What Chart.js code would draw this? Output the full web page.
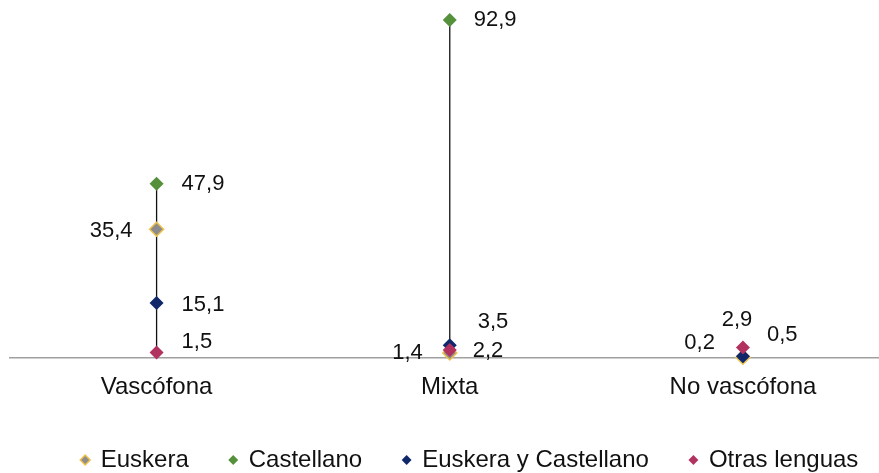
<!DOCTYPE html>
<html>
<head>
<meta charset="utf-8">
<script src="https://cdn.jsdelivr.net/npm/chart.js@4"></script>
<style>
html,body{margin:0;padding:0;background:#fff;overflow:hidden}
canvas{display:block}
</style>
</head>
<body>
<canvas id="c" width="930" height="473"></canvas>
<script>
const categories=['Vascófona','Mixta','No vascófona'];
const seriesNames=['Euskera','Castellano','Euskera y Castellano','Otras lenguas'];
const euskera=[35.4,1.4,0.2];
const castellano=[47.9,92.9,null];
const euskeraCastellano=[15.1,3.5,0.5];
const otrasLenguas=[1.5,2.2,2.9];

// where each value label sits next to its marker: [dx, dy, align]
const labelPos=[
  [[-24,2,'right'],[-27,0,'right'],[-28,-14,'right']],
  [[25,0,'left'],[24,0,'left'],null],
  [[25,2,'left'],[28,-23,'left'],[24,-21,'left']],
  [[25,-11,'left'],[23,1,'left'],[-6,-28,'center']]
];

const FONT='"Liberation Sans", Arial, sans-serif';
const toPts=arr=>arr.map((v,i)=>({x:i,y:v}));
const fmt=v=>v.toFixed(1).replace('.',',');

const hiLo={
  id:'hiLo',
  beforeDatasetsDraw(chart){
    const {ctx,scales:{x,y}}=chart;
    ctx.save();
    ctx.strokeStyle='#111';
    ctx.lineWidth=1.3;
    categories.forEach((c,i)=>{
      const vals=chart.data.datasets.map(d=>d.data[i].y).filter(v=>v!=null);
      const px=x.getPixelForValue(i);
      ctx.beginPath();
      ctx.moveTo(px,y.getPixelForValue(Math.max(...vals)));
      ctx.lineTo(px,y.getPixelForValue(Math.min(...vals)));
      ctx.stroke();
    });
    ctx.restore();
  }
};

const valueLabels={
  id:'valueLabels',
  afterDatasetsDraw(chart){
    const {ctx}=chart;
    ctx.save();
    ctx.font='22px '+FONT;
    ctx.fillStyle='#111';
    ctx.textBaseline='middle';
    chart.data.datasets.forEach((ds,di)=>{
      const meta=chart.getDatasetMeta(di);
      ds.data.forEach((p,i)=>{
        const pos=labelPos[di][i];
        if(p.y==null||!pos)return;
        const el=meta.data[i];
        ctx.textAlign=pos[2];
        ctx.fillText(fmt(p.y),el.x+pos[0],el.y+pos[1]);
      });
    });
    ctx.restore();
  }
};

const mk=(label,arr,fill,border,order)=>({
  label,data:toPts(arr),order,
  showLine:false,clip:false,
  pointStyle:'rectRot',pointRadius:7,
  backgroundColor:fill,borderColor:border,
  pointBackgroundColor:fill,pointBorderColor:border,
  pointBorderWidth:border===fill?0:1.5
});

new Chart(document.getElementById('c'),{
  type:'line',
  data:{datasets:[
    mk(seriesNames[0],euskera,'#8c8c8c','#f0c24a',4),
    mk(seriesNames[1],castellano,'#55913a','#55913a',3),
    mk(seriesNames[2],euskeraCastellano,'#10286a','#10286a',2),
    mk(seriesNames[3],otrasLenguas,'#b2325f','#b2325f',1)
  ]},
  options:{
    responsive:false,
    animation:false,
    layout:{padding:{left:10,right:0,top:12,bottom:-9}},
    plugins:{
      tooltip:{enabled:false},
      legend:{
        position:'bottom',
        labels:{
          usePointStyle:true,boxWidth:7,boxHeight:7,padding:41,
          color:'#111',font:{size:24,family:FONT},
          sort:(a,b)=>a.datasetIndex-b.datasetIndex
        }
      }
    },
    scales:{
      x:{
        type:'linear',min:-0.5,max:2.609,
        grid:{display:false,drawTicks:false},
        border:{display:true,color:'#a0a0a0',width:1.5},
        afterBuildTicks:s=>{s.ticks=categories.map((c,i)=>({value:i}));},
        afterFit:s=>{s.height=49;},
        ticks:{
          autoSkip:false,maxRotation:0,padding:15,color:'#111',
          font:{size:24,family:FONT},
          callback:v=>categories[v]
        }
      },
      y:{display:false,min:0,max:95.1}
    }
  },
  plugins:[hiLo,valueLabels]
});
</script>
</body>
</html>
